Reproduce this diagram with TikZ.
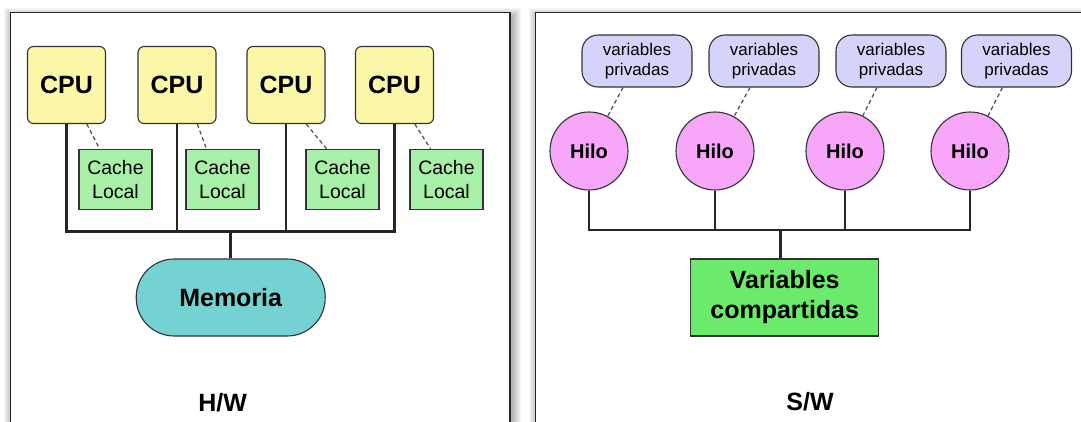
\documentclass[tikz,border=0pt]{standalone}
\usepackage{fontspec}
\setmainfont{Liberation Sans}
\begin{document}
\begin{tikzpicture}[x=1pt,y=-1pt,
  cpubox/.style={draw=black!80, fill=cpuY, rounded corners=6pt, line width=1.1pt,
    minimum width=78pt, minimum height=77pt, inner sep=0pt,
    font=\fontsize{25}{30}\selectfont\bfseries},
  cachebox/.style={draw=black!80, fill=cacheG, line width=1.1pt,
    minimum width=73pt, minimum height=60pt, inner sep=0pt, align=center,
    font=\fontsize{19.5}{24.5}\selectfont},
  privbox/.style={draw=black!80, fill=privL, rounded corners=16pt, line width=1.1pt,
    minimum width=110pt, minimum height=52pt, inner sep=0pt, align=center,
    font=\fontsize{17}{20}\selectfont},
  hilo/.style={circle, draw=black!80, fill=hiloP, line width=1.1pt,
    minimum size=78pt, inner sep=0pt, font=\fontsize{20}{24}\selectfont\bfseries},
  link/.style={draw=black!70, line width=1.2pt, dash pattern=on 4pt off 3pt},
  bus/.style={draw=black!85, line width=2.6pt},
  panel/.style={draw=black!85, fill=white, line width=1.4pt},
  title/.style={font=\fontsize{25}{30}\selectfont\bfseries}]

\definecolor{cpuY}{HTML}{FBF7A9}
\definecolor{cacheG}{HTML}{A8F0A8}
\definecolor{memT}{HTML}{74D2D2}
\definecolor{privL}{HTML}{D4D4FA}
\definecolor{hiloP}{HTML}{F8A6F8}
\definecolor{compG}{HTML}{6BEB6B}

\useasboundingbox (0,0) rectangle (1081,421);

% soft shadows behind both panels
\foreach \s in {1,...,9} {
  \fill[black, opacity=0.035] (10.7-\s+2, 12.7-\s+4) rectangle (510+\s+2, 440);
  \fill[black, opacity=0.035] (535.7-\s+2, 12.7-\s+4) rectangle (1095, 440);
}
% panels
\path[panel] (10.7,12.7) rectangle (510,430);
\path[panel] (535.7,12.7) rectangle (1090,430);

% ---------------- hardware side ----------------
\node[cpubox] (cpu1) at (66.5,85) {CPU};
\node[cpubox] (cpu2) at (177,85) {CPU};
\node[cpubox] (cpu3) at (286,85) {CPU};
\node[cpubox] (cpu4) at (394.5,85) {CPU};

\node[cachebox] (c1) at (115.5,179.3) {Cache\\Local};
\node[cachebox] (c2) at (222.5,179.3) {Cache\\Local};
\node[cachebox] (c3) at (342.5,179.3) {Cache\\Local};
\node[cachebox] (c4) at (446.5,179.3) {Cache\\Local};

\node[draw=black!80, fill=memT, rounded corners=38pt, line width=1.1pt,
  minimum width=189pt, minimum height=77pt, inner sep=0pt,
  font=\fontsize{25}{30}\selectfont\bfseries] (mem) at (230.7,297.5) {Memoria};

\coordinate (busL) at (230.7,231.7);

\foreach \i in {1,...,4} {
  \draw[link] ([xshift=20.3pt]cpu\i.south) -- ([xshift=-16pt]c\i.north);
  \draw[bus] (cpu\i.south) -- (cpu\i.south |- busL);
}
\draw[bus, line cap=rect] (cpu1.south |- busL) -- (cpu4.south |- busL);
\draw[bus] (busL) -- (mem.north);

\node[title] (hw) at (222.7,403) {H/W};

% ---------------- software side ----------------
\node[privbox] (p1) at (637,61) {variables\\privadas};
\node[privbox] (p2) at (764,61) {variables\\privadas};
\node[privbox] (p3) at (891,61) {variables\\privadas};
\node[privbox] (p4) at (1016.5,61) {variables\\privadas};

\node[hilo] (h1) at (589,151) {Hilo};
\node[hilo] (h2) at (715,151) {Hilo};
\node[hilo] (h3) at (845,151) {Hilo};
\node[hilo] (h4) at (970,151) {Hilo};

\node[draw=black!80, fill=compG, line width=1.1pt,
  minimum width=188pt, minimum height=77pt, inner sep=0pt, align=center,
  font=\fontsize{25}{30}\selectfont\bfseries] (comp) at (784.7,297.5) {Variables\\compartidas};

\coordinate (busR) at (780.7,230);

\foreach \i in {1,...,4} {
  \draw[link] ([xshift=-14pt]p\i.south) -- (h\i);
  \draw[bus] (h\i.south) -- (h\i.south |- busR);
}
\draw[bus, line cap=rect] (h1.south |- busR) -- (h4.south |- busR);
\draw[bus] (busR) -- (busR |- comp.north);

\node[title] (sw) at (810,402) {S/W};
\end{tikzpicture}
\end{document}
